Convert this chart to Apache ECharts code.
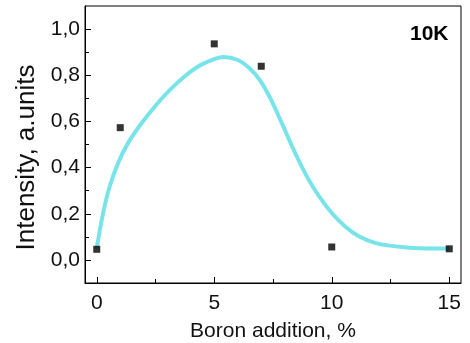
<!DOCTYPE html>
<html>
<head>
<meta charset="utf-8">
<script src="https://cdn.jsdelivr.net/npm/echarts@6/dist/echarts.min.js"></script>
<style>
  html, body { margin: 0; padding: 0; background: #fff; }
  #main { width: 470px; height: 343px; }
</style>
</head>
<body>
<div id="main"></div>
<script>
// measured points
var boronX = [0, 1, 5, 7, 10, 15];
var intensity = [0.046, 0.573, 0.936, 0.839, 0.056, 0.048];

// fitted curve
var fitX = [0, 0.27, 0.55, 0.91, 1.33, 1.89, 2.6, 3.2, 3.8, 4.4, 5.0, 5.4, 6.0, 6.5, 6.97, 7.46, 7.95, 8.45, 8.94, 9.44, 10.0, 10.57, 11.13, 11.84, 12.4, 13.2, 14.1, 15];
var fitY = [0.05, 0.203, 0.318, 0.42, 0.506, 0.59, 0.68, 0.745, 0.8, 0.843, 0.87, 0.879, 0.866, 0.83, 0.775, 0.685, 0.575, 0.462, 0.362, 0.278, 0.203, 0.145, 0.104, 0.074, 0.063, 0.054, 0.05, 0.05];

// ticks
var xMajor = [0, 5, 10, 15];
var xMinor = [2.5, 7.5, 12.5];
var yMajor = [0, 0.2, 0.4, 0.6, 0.8, 1.0];
var yMinor = [0.1, 0.3, 0.5, 0.7, 0.9];

var font = 'Liberation Sans, Arial, sans-serif';

function pairs(xs, ys) {
    var out = [];
    for (var i = 0; i < xs.length; i++) {
        out.push([xs[i], ys[i]]);
    }
    return out;
}

// extra axis that only draws a set of inward ticks
function tickAxis(base, pos, values, len) {
    return Object.assign({}, base, {
        position: pos,
        axisLine: { show: false, onZero: false },
        axisTick: { show: true, inside: true, length: len, customValues: values, lineStyle: { color: '#000' } },
        axisLabel: { show: false }
    });
}

var myChart = echarts.init(document.getElementById('main'));

var baseX = {
    type: 'value',
    min: -0.5,
    max: 15.5,
    splitLine: { show: false }
};
var baseY = {
    type: 'value',
    min: -0.1,
    max: 1.1,
    splitLine: { show: false }
};

var option = {
    animation: false,
    grid: {
        left: 85, top: 6, right: 9, bottom: 60,
        outerBoundsMode: 'none',
        containLabel: false,
        show: true,
        borderColor: '#000',
        borderWidth: 1
    },
    xAxis: [
        Object.assign({}, baseX, {
            position: 'bottom',
            name: 'Boron addition, %',
            nameLocation: 'middle',
            nameGap: 38,
            nameTextStyle: { fontFamily: font, fontSize: 21, color: '#111' },
            axisLine: { show: true, onZero: false, lineStyle: { color: '#000', width: 1 } },
            axisTick: { show: false },
            axisLabel: {
                customValues: xMajor,
                margin: 10,
                fontFamily: font, fontSize: 21, color: '#111'
            }
        }),
        tickAxis(baseX, 'bottom', xMajor, 6),
        tickAxis(baseX, 'bottom', xMinor, 4)
    ],
    yAxis: [
        Object.assign({}, baseY, {
            position: 'left',
            name: 'Intensity, a.units',
            nameLocation: 'middle',
            nameGap: 44,
            nameTextStyle: { fontFamily: font, fontSize: 26, color: '#111', padding: [0, 0, 0, -26] },
            axisLine: { show: true, onZero: false, lineStyle: { color: '#000', width: 1 } },
            axisTick: { show: false },
            axisLabel: {
                customValues: yMajor,
                margin: 5,
                fontFamily: font, fontSize: 21, color: '#111',
                formatter: function (v) {
                    return v.toFixed(1).replace('.', ',');
                }
            }
        }),
        tickAxis(baseY, 'left', yMajor, 6),
        tickAxis(baseY, 'left', yMinor, 4)
    ],
    graphic: [{
        type: 'text',
        left: 410,
        top: 24,
        style: {
            text: '10K',
            font: 'bold 21px ' + font,
            fill: '#000'
        }
    }],
    series: [{
        name: 'fit',
        type: 'line',
        data: pairs(fitX, fitY),
        smooth: 0.4,
        showSymbol: false,
        lineStyle: { color: '#78e4ea', width: 4 },
        z: 2
    }, {
        name: 'data',
        type: 'scatter',
        data: pairs(boronX, intensity),
        symbol: 'rect',
        symbolSize: 7,
        itemStyle: { color: '#000' },
        z: 3
    }]
};
myChart.setOption(option);
</script>
</body>
</html>
